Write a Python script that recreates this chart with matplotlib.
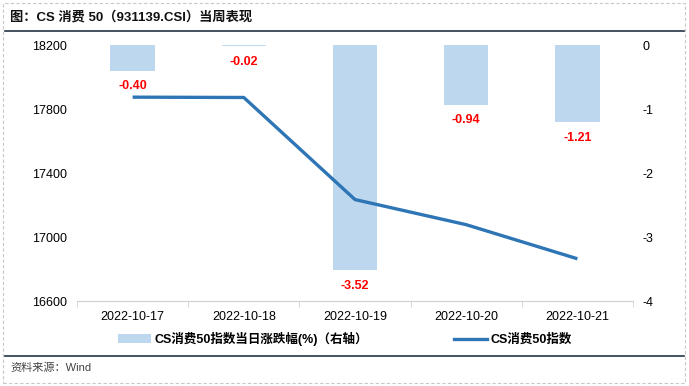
import matplotlib.pyplot as plt
from matplotlib.lines import Line2D
from matplotlib.patches import Patch, Rectangle

plt.rcParams['font.family'] = ['Liberation Sans', 'Noto Sans CJK SC', 'DejaVu Sans']

dates = ["2022-10-17", "2022-10-18", "2022-10-19", "2022-10-20", "2022-10-21"]
index_close = [17874, 17872, 17234, 17077, 16864]
daily_change = [-0.40, -0.02, -3.52, -0.94, -1.21]

bar_color = "#bdd7ee"
line_color = "#2e75b6"
dark = "#263445"

fig = plt.figure(figsize=(6.89, 3.86), dpi=100)
ax = fig.add_axes([77 / 689, 1 - 301 / 386, 556 / 689, 256 / 386])
ax2 = ax.twinx()

x = list(range(len(dates)))

# bars on the right axis, line on the left axis (line drawn on top)
ax.set_zorder(ax2.get_zorder() + 1)
ax.patch.set_visible(False)

ax2.bar(x, daily_change, width=0.4, color=bar_color, zorder=1)
for xi, v in zip(x, daily_change):
    ax2.annotate(f"{v:.2f}", (xi, v), xytext=(0, -11), textcoords="offset points",
                 ha="center", va="center", color="red", fontsize=9, fontweight="bold")
ax2.set_ylim(-4, 0)
ax2.set_yticks([0, -1, -2, -3, -4])
ax2.set_yticklabels(["0", "-1", "-2", "-3", "-4"])

ax.plot(x, index_close, color=line_color, linewidth=2.4, solid_capstyle="butt")
ax.set_ylim(16600, 18200)
ax.set_yticks([16600, 17000, 17400, 17800, 18200])
ax.set_xlim(-0.5, len(dates) - 0.5)
ax.set_xticks(x)
ax.set_xticklabels(dates)
ax.set_xticks([i - 0.5 for i in range(len(dates) + 1)], minor=True)
ax.tick_params(axis="x", which="major", length=0, labelsize=9, pad=7)
ax.tick_params(axis="x", which="minor", length=4, color="#d0d0d0")
ax.tick_params(axis="y", length=0, labelsize=9, pad=7)
ax2.tick_params(axis="y", length=0, labelsize=9, pad=7)

for a in (ax, ax2):
    for s in ("top", "left", "right"):
        a.spines[s].set_visible(False)
ax.spines["bottom"].set_color("#d0d0d0")
ax2.spines["bottom"].set_visible(False)

handles = [Patch(facecolor=bar_color, edgecolor="none"),
           Line2D([0], [0], color=line_color, linewidth=2.4)]
labels = ["CS消费50指数当日涨跌幅(%)（右轴）", "CS消费50指数"]
fig.legend(handles, labels, loc="center", bbox_to_anchor=(345 / 689, 1 - 339 / 386),
           ncol=2, frameon=False, columnspacing=6.9, handlelength=2.6, handletextpad=0.3,
           prop={"size": 9, "weight": "bold"})

# title, separators, source, frame
fig.text(10 / 689, 1 - 17 / 386, "图：CS 消费 50（931139.CSI）当周表现", fontsize=9.5,
         fontweight="bold", va="center", ha="left", color="#111111")
fig.add_artist(Line2D([5 / 689, 684 / 689], [1 - 31 / 386] * 2, color=dark, linewidth=1.2))
fig.add_artist(Line2D([5 / 689, 684 / 689], [1 - 356 / 386] * 2, color=dark, linewidth=1.2))
fig.text(10 / 689, 1 - 368 / 386, "资料来源：Wind", fontsize=8, va="center", ha="left",
         color="#444444")
fig.add_artist(Rectangle((3 / 689, 3 / 386), 682 / 689, 380 / 386, fill=False,
                         edgecolor="#c8c8c8", linestyle=(0, (3, 2)), linewidth=0.8,
                         transform=fig.transFigure))

fig.savefig("out.png", dpi=100)
